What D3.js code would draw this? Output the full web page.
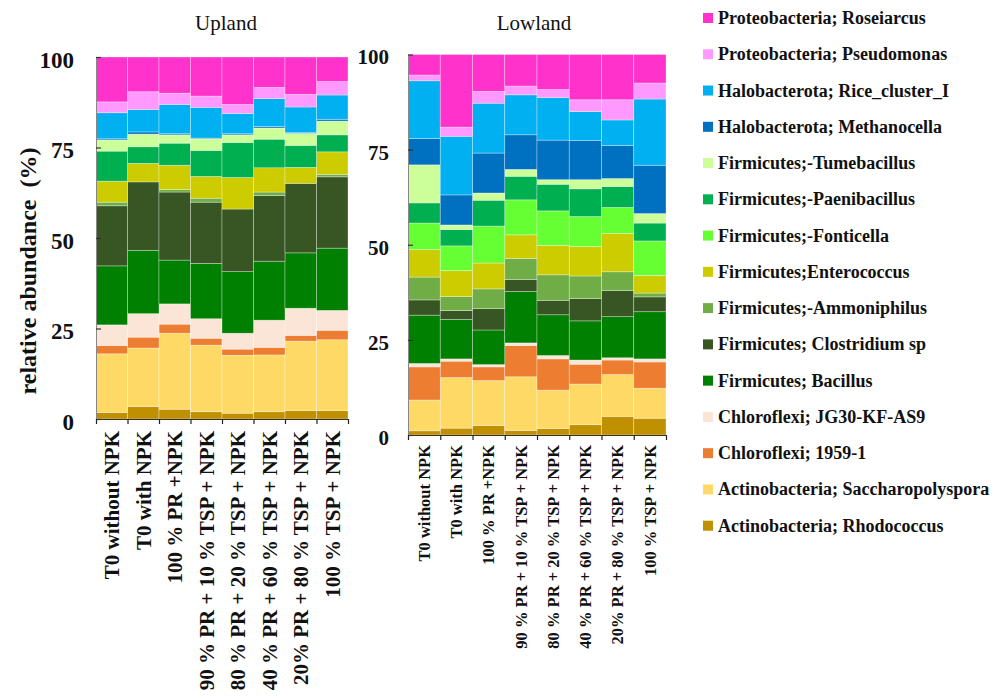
<!DOCTYPE html>
<html>
<head>
<meta charset="utf-8">
<script src="https://cdn.jsdelivr.net/npm/d3@7"></script>
<style>
  html, body { margin: 0; padding: 0; background: #fff; }
  svg { display: block; font-family: "Liberation Serif", "Times New Roman", serif; }
</style>
</head>
<body>
<svg id="chart" width="1004" height="698"></svg>
<script>
// Genera, listed from the bottom of each stack to the top
const taxa = [
  "Actinobacteria; Rhodococcus",
  "Actinobacteria; Saccharopolyspora",
  "Chloroflexi; 1959-1",
  "Chloroflexi; JG30-KF-AS9",
  "Firmicutes; Bacillus",
  "Firmicutes; Clostridium sp",
  "Firmicutes;-Ammoniphilus",
  "Firmicutes;Enterococcus",
  "Firmicutes;-Fonticella",
  "Firmicutes;-Paenibacillus",
  "Firmicutes;-Tumebacillus",
  "Halobacterota; Methanocella",
  "Halobacterota; Rice_cluster_I",
  "Proteobacteria; Pseudomonas",
  "Proteobacteria; Roseiarcus"
];
const taxaColors = [
  "#BF9000", "#FFD966", "#ED7D31", "#FBE5D6", "#008000",
  "#375623", "#70AD47", "#CCCC00", "#66FF33", "#00B050",
  "#CCFF99", "#0070C0", "#00B0F0", "#FF99FF", "#FF33CC"
];

const treatments = [
  "T0 without NPK",
  "T0 with NPK",
  "100 % PR +NPK",
  "90 % PR + 10 % TSP + NPK",
  "80 % PR + 20 % TSP + NPK",
  "40 % PR + 60 % TSP + NPK",
  "20% PR + 80 % TSP + NPK",
  "100 % TSP + NPK"
];
const yTicks = [0, 25, 50, 75, 100];

// Upland relative abundance (%), one value per treatment
const upRhodococcus       = [1.8, 3.4, 2.7, 2.0, 1.6, 2.0, 2.3, 2.3];
const upSaccharopolyspora = [16.2, 16.2, 21.0, 18.4, 16.0, 15.7, 19.2, 19.6];
const up1959              = [2.3, 3.0, 2.5, 1.9, 1.7, 2.1, 1.6, 2.6];
const upJG30              = [5.7, 6.5, 5.6, 5.4, 4.4, 7.5, 7.5, 5.5];
const upBacillus          = [16.3, 17.5, 12.1, 15.3, 17.0, 16.3, 15.3, 17.2];
const upClostridium       = [16.6, 18.9, 18.8, 16.9, 17.3, 18.1, 19.2, 19.7];
const upAmmoniphilus      = [1.0, 0.0, 0.7, 1.1, 0.0, 1.0, 0.0, 0.7];
const upEnterococcus      = [5.8, 5.1, 6.7, 6.0, 8.7, 6.7, 4.4, 6.2];
const upFonticella        = [0, 0, 0, 0, 0, 0, 0, 0];
const upPaenibacillus     = [8.3, 4.6, 6.1, 7.2, 9.7, 7.9, 6.1, 4.7];
const upTumebacillus      = [3.1, 3.5, 2.3, 3.2, 2.1, 3.1, 3.3, 3.8];
const upMethanocella      = [0.3, 0.6, 0.3, 0.2, 0.3, 0.4, 0.2, 0.5];
const upRiceCluster       = [7.2, 6.2, 8.1, 8.5, 5.6, 7.7, 7.1, 6.7];
const upPseudomonas       = [3.0, 4.9, 3.1, 3.1, 2.5, 3.1, 3.5, 3.7];
const upRoseiarcus        = [12.4, 9.6, 10.0, 10.8, 13.1, 8.4, 10.3, 6.8];

// Lowland relative abundance (%), one value per treatment
const lowRhodococcus       = [1.1, 1.8, 2.5, 1.2, 1.7, 2.7, 4.9, 4.4];
const lowSaccharopolyspora = [8.1, 13.3, 11.8, 14.1, 10.1, 10.7, 11.0, 7.9];
const low1959              = [8.7, 4.3, 3.6, 8.2, 8.2, 5.2, 3.8, 6.9];
const lowJG30              = [0.9, 0.6, 0.6, 0.7, 0.9, 1.1, 0.6, 0.8];
const lowBacillus          = [12.7, 10.4, 9.1, 13.5, 10.7, 10.3, 10.8, 12.4];
const lowClostridium       = [4.0, 2.3, 5.6, 3.2, 3.8, 5.9, 6.9, 3.9];
const lowAmmoniphilus      = [6.0, 3.7, 5.2, 5.5, 6.7, 5.9, 4.9, 1.0];
const lowEnterococcus      = [7.2, 6.8, 6.8, 6.2, 7.7, 7.7, 10.1, 4.6];
const lowFonticella        = [7.0, 6.5, 9.7, 9.2, 9.1, 7.9, 6.8, 9.1];
const lowPaenibacillus     = [5.3, 4.3, 6.8, 6.2, 7.0, 7.3, 5.5, 4.7];
const lowTumebacillus      = [10.0, 1.2, 1.9, 1.8, 1.2, 2.4, 2.1, 2.5];
const lowMethanocella      = [6.9, 7.9, 10.5, 9.1, 10.4, 10.3, 8.7, 12.7];
const lowRiceCluster       = [15.2, 15.4, 13.1, 10.5, 11.2, 7.6, 6.7, 17.4];
const lowPseudomonas       = [1.5, 2.4, 3.1, 2.3, 2.1, 3.1, 5.3, 4.2];
const lowRoseiarcus        = [5.4, 19.1, 9.7, 8.3, 9.2, 11.9, 11.9, 7.5];

const uplandSeries = [upRhodococcus, upSaccharopolyspora, up1959, upJG30, upBacillus,
  upClostridium, upAmmoniphilus, upEnterococcus, upFonticella, upPaenibacillus,
  upTumebacillus, upMethanocella, upRiceCluster, upPseudomonas, upRoseiarcus];
const lowlandSeries = [lowRhodococcus, lowSaccharopolyspora, low1959, lowJG30, lowBacillus,
  lowClostridium, lowAmmoniphilus, lowEnterococcus, lowFonticella, lowPaenibacillus,
  lowTumebacillus, lowMethanocella, lowRiceCluster, lowPseudomonas, lowRoseiarcus];

const svg = d3.select("#chart");
const color = d3.scaleOrdinal().domain(taxa).range(taxaColors);

function drawPanel(opts) {
  const { series, title, left, right, top, bottom, tickFont, tickPad,
          labelFont, labelPad, titleX } = opts;

  // one row per treatment, one column per genus
  const rows = treatments.map((t, i) => {
    const r = { treatment: t };
    taxa.forEach((name, k) => { r[name] = series[k][i]; });
    return r;
  });
  const stacked = d3.stack().keys(taxa)(rows);

  const x = d3.scaleBand().domain(treatments).range([left, right]).padding(0);
  const y = d3.scaleLinear().domain([0, 100]).range([bottom, top]);
  const edges = d3.scaleLinear().domain([0, treatments.length]).range([left, right]);

  const g = svg.append("g");

  g.append("g").selectAll("g")
    .data(stacked)
    .join("g")
      .attr("fill", d => color(d.key))
    .selectAll("rect")
    .data(d => d)
    .join("rect")
      .attr("x", d => x(d.data.treatment))
      .attr("width", x.bandwidth())
      .attr("y", d => y(d[1]))
      .attr("height", d => Math.max(0, y(d[0]) - y(d[1])))
      .attr("stroke", "#ffffff")
      .attr("stroke-opacity", 0.45)
      .attr("stroke-width", 0.7);

  // y axis: ticks point into the plot
  const yAxis = g.append("g")
    .attr("transform", `translate(${left},0)`)
    .call(d3.axisLeft(y).tickValues(yTicks).tickSize(-5).tickSizeOuter(0).tickPadding(tickPad));
  yAxis.select(".domain").attr("stroke", "#888").attr("stroke-width", 1);
  yAxis.selectAll(".tick line").attr("stroke", "#333").attr("stroke-width", 1.2);
  yAxis.selectAll(".tick text")
    .attr("font-family", "'Liberation Serif', 'Times New Roman', serif")
    .attr("font-size", tickFont)
    .attr("font-weight", "bold")
    .attr("fill", "#111")
    .attr("dy", "0.45em");

  // bottom axis: ticks at the bar edges
  const xEdge = g.append("g")
    .attr("transform", `translate(0,${bottom})`)
    .call(d3.axisBottom(edges).tickValues(d3.range(treatments.length + 1))
      .tickSize(5).tickSizeOuter(0).tickFormat(""));
  xEdge.select(".domain").attr("stroke", "#333").attr("stroke-width", 1);
  xEdge.selectAll(".tick line").attr("stroke", "#222").attr("stroke-width", 1.2);

  // treatment labels, rotated
  const xLab = g.append("g")
    .attr("transform", `translate(0,${bottom})`)
    .call(d3.axisBottom(x).tickSize(0).tickPadding(0));
  xLab.select(".domain").remove();
  xLab.selectAll(".tick text")
    .attr("font-family", "'Liberation Serif', 'Times New Roman', serif")
    .attr("font-size", labelFont)
    .attr("font-weight", "bold")
    .attr("fill", "#111")
    .attr("text-anchor", "end")
    .attr("transform", "rotate(-90)")
    .attr("x", -labelPad)
    .attr("y", 0)
    .attr("dy", "0.35em");

  svg.append("text")
    .attr("x", titleX)
    .attr("y", 30)
    .attr("text-anchor", "middle")
    .attr("font-size", 21)
    .attr("fill", "#111")
    .text(title);
}

drawPanel({
  series: uplandSeries, title: "Upland",
  left: 96, right: 348, top: 57, bottom: 419,
  tickFont: 23, tickPad: 22, labelFont: 21, labelPad: 12, titleX: 226
});
drawPanel({
  series: lowlandSeries, title: "Lowland",
  left: 408, right: 666, top: 54.5, bottom: 435,
  tickFont: 21, tickPad: 19, labelFont: 16.5, labelPad: 10, titleX: 534
});

// y axis title
svg.append("text")
  .attr("transform", "translate(36,271) rotate(-90)")
  .attr("text-anchor", "middle")
  .attr("font-size", 24)
  .attr("font-weight", "bold")
  .attr("fill", "#111")
  .style("white-space", "pre")
  .text("relative abundance  (%)");

// legend, top entry = top of the stack
const legendItems = taxa.slice().reverse();
const legend = svg.append("g").attr("transform", "translate(703,0)");
const rowY = d3.scaleLinear().domain([0, legendItems.length - 1]).range([24, 531.7]);
const entry = legend.selectAll("g")
  .data(legendItems)
  .join("g")
    .attr("transform", (d, i) => `translate(0,${rowY(i)})`);
entry.append("rect")
  .attr("x", 0).attr("y", -11)
  .attr("width", 10).attr("height", 10)
  .attr("fill", d => color(d));
entry.append("text")
  .attr("x", 15).attr("y", 0)
  .attr("font-size", 18)
  .attr("font-weight", "bold")
  .attr("fill", "#111")
  .text(d => d);
</script>
</body>
</html>
